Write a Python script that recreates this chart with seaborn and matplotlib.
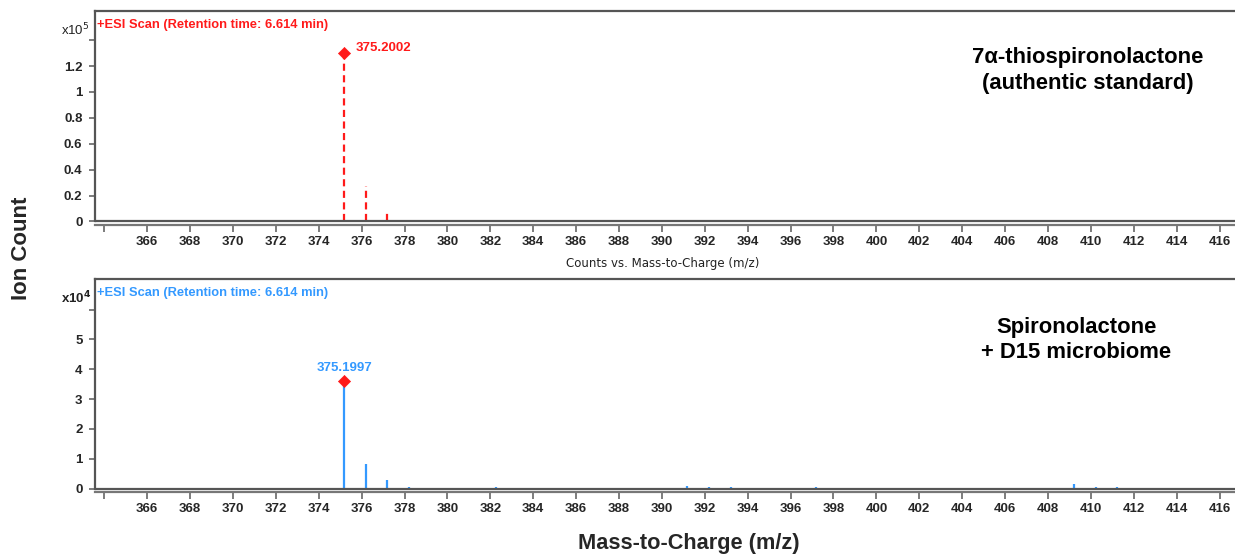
import matplotlib
matplotlib.use("Agg")
import matplotlib.pyplot as plt
import seaborn as sns
import numpy as np
import pandas as pd

# Centroided peaks (m/z, counts)
std_mz = [375.2002, 376.2030, 377.1990]
std_counts = [130000, 27500, 7500]

mix_mz = [364.24, 364.90, 365.24, 367.93, 368.91, 370.20, 370.88, 372.87,
          375.1997, 376.20, 377.18, 378.19, 379.20, 382.25, 383.85,
          391.17, 392.20, 393.22, 394.22, 395.00, 397.18, 398.17,
          405.27, 409.22, 410.22, 411.22, 413.10, 414.23]
mix_counts = [200, 150, 250, 200, 250, 150, 200, 150,
              36200, 8200, 2800, 650, 250, 350, 250,
              700, 650, 550, 300, 250, 550, 300,
              200, 1400, 500, 450, 200, 250]

std_label = "375.2002"
mix_label = "375.1997"
scan_title = "+ESI Scan (Retention time: 6.614 min)"
x_ticks = list(range(364, 418, 2))

RED = "#ff1a1a"
BLUE = "#3399ff"
FRAME = "#555555"

sns.set_theme(style="white")
plt.rcParams["font.family"] = ["Liberation Sans", "DejaVu Sans"]

fig = plt.figure(figsize=(12.35, 5.55), dpi=100)
ax1 = fig.add_axes([95 / 1235, 1 - 221.5 / 555, 1 - 95 / 1235, 210.5 / 555])
ax2 = fig.add_axes([95 / 1235, 1 - 488.5 / 555, 1 - 95 / 1235, 209.2 / 555])

std_df = pd.DataFrame({"mz": std_mz, "val": np.array(std_counts) / 1e5})
mix_df = pd.DataFrame({"mz": mix_mz, "val": np.array(mix_counts) / 1e4})


def style_axes(ax, ymax, yticks, ylabels):
    ax.set_xticks(x_ticks)
    ax.set_xticklabels([str(t) if t >= 366 else "" for t in x_ticks])
    ax.set_yticks(yticks)
    ax.set_yticklabels(ylabels)
    ax.set_xlim(363.57, 416.72)
    ax.set_ylim(0, ymax)
    for s in ["top", "left"]:
        ax.spines[s].set_visible(True)
        ax.spines[s].set_color(FRAME)
        ax.spines[s].set_linewidth(1.6)
    ax.spines["right"].set_visible(False)
    ax.spines["bottom"].set_color("#777777")
    ax.spines["bottom"].set_linewidth(1.6)
    ax.spines["bottom"].set_position(("outward", 2.4))
    # frame line at the baseline, above the offset tick axis
    ax.plot([0, 1], [0, 0], transform=ax.transAxes, color=FRAME, lw=1.6,
            clip_on=False, solid_capstyle="butt", scalex=False, scaley=False)
    ax.tick_params(axis="x", direction="out", length=5, width=1.2,
                   color="#666666", labelsize=9.5, pad=3)
    ax.tick_params(axis="y", direction="out", length=4, width=1.2,
                   color="#666666", labelsize=9.5, pad=5)
    ax.tick_params(bottom=True, left=True)
    for lab in ax.get_xticklabels() + ax.get_yticklabels():
        lab.set_fontweight("bold")
    ax.set_xlabel("")
    ax.set_ylabel("")


# Upper spectrum: authentic standard
ax1.vlines(std_df["mz"], 0, std_df["val"], colors=RED, lw=1.6,
           linestyles=(0, (3.2, 2)))
sns.scatterplot(data=std_df.iloc[:1], x="mz", y="val", ax=ax1, marker="D",
                s=38, color=RED, edgecolor=RED, zorder=5, legend=False)
ax1.annotate(std_label, (std_df["mz"][0], std_df["val"][0]),
             xytext=(8, 4), textcoords="offset points", color=RED,
             fontsize=9.5, fontweight="bold", va="center", ha="left")
style_axes(ax1, 1.625, [0, 0.2, 0.4, 0.6, 0.8, 1.0, 1.2, 1.4],
           ["0", "0.2", "0.4", "0.6", "0.8", "1", "1.2", ""])
ax1.text(0.002, 0.935, scan_title, transform=ax1.transAxes, color=RED,
         fontsize=9.3, fontweight="bold", va="center", ha="left")
ax1.text(0.871, 0.716, "7α-thiospironolactone\n(authentic standard)",
         transform=ax1.transAxes, fontsize=15.8, fontweight="bold",
         ha="center", va="center", linespacing=1.3, color="black")

# Lower spectrum: incubation with microbiome
ax2.vlines(mix_df["mz"], 0, mix_df["val"], colors=BLUE, lw=1.6)
peak = mix_df.loc[mix_df["val"].idxmax()]
sns.scatterplot(x=[peak["mz"]], y=[peak["val"]], ax=ax2, marker="D",
                s=38, color=RED, edgecolor=RED, zorder=5, legend=False)
ax2.annotate(mix_label, (peak["mz"], peak["val"]), xytext=(0, 4.5),
             textcoords="offset points", color=BLUE, fontsize=9.5,
             fontweight="bold", ha="center", va="bottom")
style_axes(ax2, 7.02, [0, 1, 2, 3, 4, 5, 6],
           ["0", "1", "2", "3", "4", "5", ""])
ax2.text(0.002, 0.935, scan_title, transform=ax2.transAxes, color=BLUE,
         fontsize=9.3, fontweight="bold", va="center", ha="left")
ax2.text(0.861, 0.71, "Spironolactone\n+ D15 microbiome",
         transform=ax2.transAxes, fontsize=15.8, fontweight="bold",
         ha="center", va="center", linespacing=1.3, color="black")

# Axis multipliers
fig.text(61 / 1235, 1 - 30 / 555, r"x10$^{5}$", fontsize=9.5, ha="left",
         va="center", color="#222222")
fig.text(61 / 1235, 1 - 298 / 555, r"x10$^{\mathbf{4}}$", fontsize=9.5,
         fontweight="bold", ha="left", va="center", color="#222222")

fig.text(663 / 1235, 1 - 263 / 555, "Counts vs. Mass-to-Charge (m/z)",
         fontsize=8.5, family="DejaVu Sans", ha="center", va="center",
         color="#222222")
fig.text(22 / 1235, 1 - 248 / 555, "Ion Count", rotation=90, fontsize=16,
         fontweight="bold", ha="center", va="center")
fig.text(689 / 1235, 1 - 543 / 555, "Mass-to-Charge (m/z)", fontsize=15.7,
         fontweight="bold", ha="center", va="center")

fig.savefig("out.png", dpi=100)
